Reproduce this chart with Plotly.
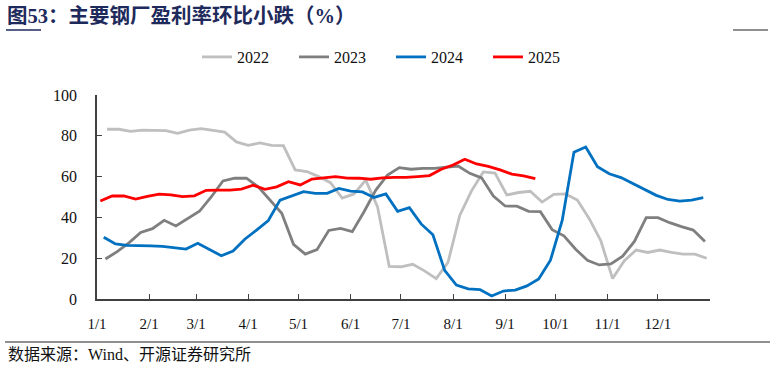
import pandas as pd
import plotly.graph_objects as go

# ---------------- data (weekly readings, %) ----------------
series_names = ["2022", "2023", "2024", "2025"]

v2022 = [83.2, 83.2, 82.2, 82.8, 82.7, 82.5, 81.2, 82.8, 83.5, 82.7,
         81.8, 77.0, 75.3, 76.5, 75.3, 75.2, 63.3, 62.5, 60.0, 57.0,
         49.5, 51.5, 58.3, 45.3, 16.0, 15.8, 17.0, 13.8, 10.0, 18.0,
         41.0, 53.0, 62.3, 61.7, 51.0, 52.2, 52.8, 47.5, 51.3, 51.5,
         48.5, 39.5, 28.5, 10.0, 18.8, 24.0, 22.8, 24.0, 22.8, 22.0,
         22.0, 20.0]

v2023 = [19.6, 23.2, 27.5, 32.6, 34.5, 38.6, 35.8, 39.3, 43.0, 50.0,
         57.9, 59.2, 59.2, 55.0, 48.3, 42.0, 26.8, 22.0, 24.2, 33.6,
         34.6, 33.0, 42.8, 53.4, 60.8, 64.4, 63.6, 64.0, 64.0, 64.5,
         65.2, 61.6, 59.4, 50.5, 45.6, 45.5, 43.0, 42.8, 34.0, 31.0,
         24.4, 19.0, 16.7, 17.2, 21.0, 28.2, 39.9, 39.9, 37.4, 35.5,
         33.8, 28.2]

v2024 = [30.3, 27.0, 26.3, 26.3, 26.0, 25.8, 25.3, 24.5, 27.3, 24.3,
         21.2, 23.5, 29.3, 33.8, 38.5, 48.5, 50.5, 52.6, 51.8, 51.8,
         54.2, 52.9, 52.5, 49.8, 51.5, 43.0, 44.8, 36.8, 31.5, 14.0,
         6.8, 5.0, 4.6, 1.5, 3.9, 4.4, 6.4, 9.8, 19.0, 38.5,
         72.0, 74.5, 64.8, 61.4, 59.5, 56.5, 53.6, 50.8, 48.8, 48.0,
         48.5, 49.7]

v2025 = [48.0, 50.5, 50.5, 49.0, 50.3, 51.4, 51.0, 50.2, 50.6, 53.3,
         53.4, 53.4, 53.9, 55.8, 53.8, 55.0, 57.5, 55.9, 58.8, 59.5,
         60.0, 59.3, 59.2, 58.7, 59.4, 59.6, 59.6, 60.0, 60.5, 63.6,
         65.7, 68.5, 66.2, 65.0, 63.3, 61.2, 60.4, 59.0]

# first weekly observation of each year, mapped onto a common calendar
first_week = ["2023-01-07", "2023-01-06", "2023-01-05", "2023-01-03"]

tick_dates = ["2023-%02d-01" % m for m in range(1, 13)] + ["2024-01-01"]
tick_labels = ["%d/1" % m for m in range(1, 13)] + [""]

colors = ["#BFBFBF", "#7F7F7F", "#0070C0", "#FF0000"]
values = [v2022, v2023, v2024, v2025]

SERIF = "Liberation Serif, Times New Roman, Noto Sans CJK SC, serif"

fig = go.Figure()
for name, vals, start, col in zip(series_names, values, first_week, colors):
    xs = pd.date_range(start, periods=len(vals), freq="7D")
    fig.add_trace(go.Scatter(x=xs, y=vals, mode="lines", name=name,
                             line=dict(color=col, width=2.8),
                             hoverinfo="x+y+name"))

W, H = 774, 369
L, R, T, B = 97, 64, 95, 70
pw, ph = W - L - R, H - T - B


def px(x):
    return (x - L) / pw


def py(y):
    return (H - B - y) / ph


fig.update_layout(
    width=W, height=H,
    margin=dict(l=L, r=R, t=T, b=B, autoexpand=False),
    paper_bgcolor="white", plot_bgcolor="white",
    font=dict(family=SERIF, size=15, color="#111111"),
    showlegend=True,
    legend=dict(orientation="h", x=px(197), xanchor="left",
                y=py(57), yanchor="middle",
                font=dict(family=SERIF, size=16, color="#111111"),
                entrywidth=52, entrywidthmode="pixels",
                itemwidth=30, tracegroupgap=0,
                bgcolor="rgba(0,0,0,0)"),
    xaxis=dict(type="date",
               range=["2023-01-01", "2024-01-01"],
               tickmode="array", tickvals=tick_dates, ticktext=tick_labels,
               ticks="inside", ticklen=5, tickwidth=1.2, tickcolor="#404040",
               showline=True, linecolor="#404040", linewidth=1.5,
               showgrid=False, zeroline=False,
               tickfont=dict(family=SERIF, size=15, color="#111111"),
               ticklabelstandoff=10),
    yaxis=dict(range=[0, 100], tickmode="array",
               tickvals=[0, 20, 40, 60, 80, 100],
               ticks="inside", ticklen=5, tickwidth=1.2, tickcolor="#404040",
               showline=True, linecolor="#404040", linewidth=1.5,
               showgrid=False, zeroline=False,
               tickfont=dict(family=SERIF, size=16, color="#111111"),
               ticklabelstandoff=15),
)

# title
fig.add_annotation(xref="paper", yref="paper", x=px(5), y=py(16),
                   xanchor="left", yanchor="middle", showarrow=False,
                   text="<b>图53：主要钢厂盈利率环比小跌（%）</b>",
                   font=dict(family="Liberation Serif, Noto Sans CJK SC, serif",
                             size=20.5, color="#1F2A5C"))
# source
fig.add_annotation(xref="paper", yref="paper", x=px(6), y=py(354),
                   xanchor="left", yanchor="middle", showarrow=False,
                   text="数据来源：Wind、开源证券研究所",
                   font=dict(family=SERIF, size=16, color="#111111"))

# decorative rules
fig.add_shape(type="line", xref="paper", yref="paper",
              x0=px(6), x1=px(41), y0=py(30), y1=py(30),
              line=dict(color="#1F2A5C", width=1.5))
fig.add_shape(type="line", xref="paper", yref="paper",
              x0=px(733), x1=px(768), y0=py(30), y1=py(30),
              line=dict(color="#222222", width=1.2))
fig.add_shape(type="line", xref="paper", yref="paper",
              x0=px(5), x1=px(770), y0=py(342), y1=py(342),
              line=dict(color="#222222", width=1.2))

fig.write_html("out.html",
               config={"displayModeBar": False},
               post_script="document.body.style.margin='0';"
                           "document.body.style.padding='0';")
